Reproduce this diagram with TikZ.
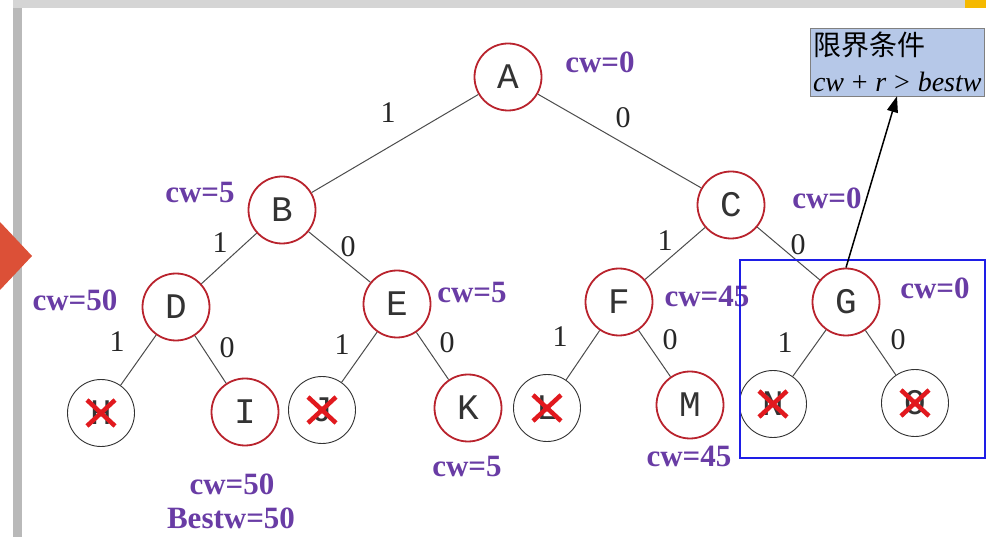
\documentclass[tikz,border=0pt]{standalone}
\usepackage{fontspec}
\setmainfont{Liberation Serif}
\newfontfamily\cjk{Noto Sans CJK SC}
\newfontfamily\letterfont{Liberation Mono}
\usetikzlibrary{arrows.meta}

\definecolor{cwpurple}{RGB}{105,60,165}
\definecolor{liveRed}{RGB}{185,35,45}
\definecolor{crossRed}{RGB}{225,25,30}
\definecolor{boundFill}{RGB}{182,200,232}
\definecolor{frameGray}{RGB}{185,185,185}
\definecolor{markRed}{RGB}{220,80,55}
\definecolor{markYellow}{RGB}{245,185,0}
\definecolor{pruneBlue}{RGB}{30,30,230}

\tikzset{
  tnode/.style={circle, minimum size=67pt, inner sep=0pt,
    font=\letterfont\fontsize{36}{36}\selectfont, text=black!80},
  live/.style={tnode, draw=liveRed, line width=1.8pt},
  dead/.style={tnode, draw=black!80, line width=0.9pt},
  edge/.style={draw=black!70, line width=1pt},
  bit/.style={font=\fontsize{30}{30}\selectfont, text=black!85},
  cwlabel/.style={font=\bfseries\fontsize{31}{31}\selectfont, text=cwpurple},
  xmark/.style={draw=crossRed, line width=4.5pt},
  boundbox/.style={draw=gray, fill=boundFill, minimum width=174pt,
    minimum height=68pt, text width=168pt, align=left, inner sep=3pt,
    font=\fontsize{28}{36}\selectfont},
}

\begin{document}
\begin{tikzpicture}[x=1pt,y=-1pt]
\useasboundingbox (0,0) rectangle (986,537);
\fill[white] (0,0) rectangle (986,537);

% slide frame
\fill[frameGray!60] (13,0) rectangle (986,8);
\fill[frameGray] (13,8) rectangle (22,537);
\fill[markYellow] (965,0) rectangle (986,8);
\fill[markRed] (0,222) -- (32,256) -- (0,290) -- cycle;

% tree
\node[live] (A) at (508,77) {A};
\node[live] (B) at (282,210) {B};
\node[live] (C) at (731,205) {C};
\node[live] (D) at (176,307) {D};
\node[live] (E) at (397,304) {E};
\node[live] (F) at (619,302) {F};
\node[live] (G) at (846,302) {G};
\node[dead] (H) at (101,413) {H};
\node[live] (I) at (245,412) {I};
\node[dead] (J) at (322,410) {J};
\node[live] (K) at (468,408) {K};
\node[dead] (L) at (547,408) {L};
\node[live] (M) at (690,405) {M};
\node[dead] (N) at (773,404) {N};
\node[dead] (O) at (915,403) {O};

\foreach \p/\c in {A/B,A/C,B/D,B/E,C/F,C/G,D/H,D/I,E/J,E/K,F/L,F/M,G/N,G/O}
  \draw[edge] (\p) -- (\c);

% pruned nodes
\foreach \n in {H,J,L,N,O} {
  \draw[xmark] ([shift={(-14,-13)}]\n.center) -- ([shift={(14,13)}]\n.center);
  \draw[xmark] ([shift={(-14,13)}]\n.center) -- ([shift={(14,-13)}]\n.center);
}

% branch values
\foreach \nm/\x/\y/\t in {bAB/388/113/1, bAC/623/118/0, bBD/220/243/1, bBE/348/247/0,
    bCF/665/241/1, bCG/798/245/0, bDH/117/342/1, bDI/227/348/0,
    bEJ/342/345/1, bEK/447/343/0, bFL/560/337/1, bFM/670/340/0,
    bGN/785/343/1, bGO/898/340/0}
  \node[bit] (\nm) at (\x,\y) {\t};

% weights
\foreach \nm/\x/\y/\t in {cwA/600/62/0, cwB/200/193/5, cwC/827/198/0, cwD/75/300/50,
    cwE/472/293/5, cwF/707/296/45, cwG/935/288/0, cwK/467/467/5,
    cwM/689/456/45, cwI/232/484/50}
  \node[cwlabel] (\nm) at (\x,\y) {cw=\t};
\node[cwlabel] (best) at (231,518) {Bestw=50};

% bound
\draw[pruneBlue, line width=2pt] (740,260) rectangle (985,458);
\node[boundbox] (bound) at (897,62) {{\cjk 限界条件}\\\textit{cw}\;+\;\textit{r}\;>\;\textit{bestw}};
\draw[-{Triangle[length=16pt,width=11pt]}, line width=1.5pt] (G.north) -- (bound.south);
\end{tikzpicture}
\end{document}
